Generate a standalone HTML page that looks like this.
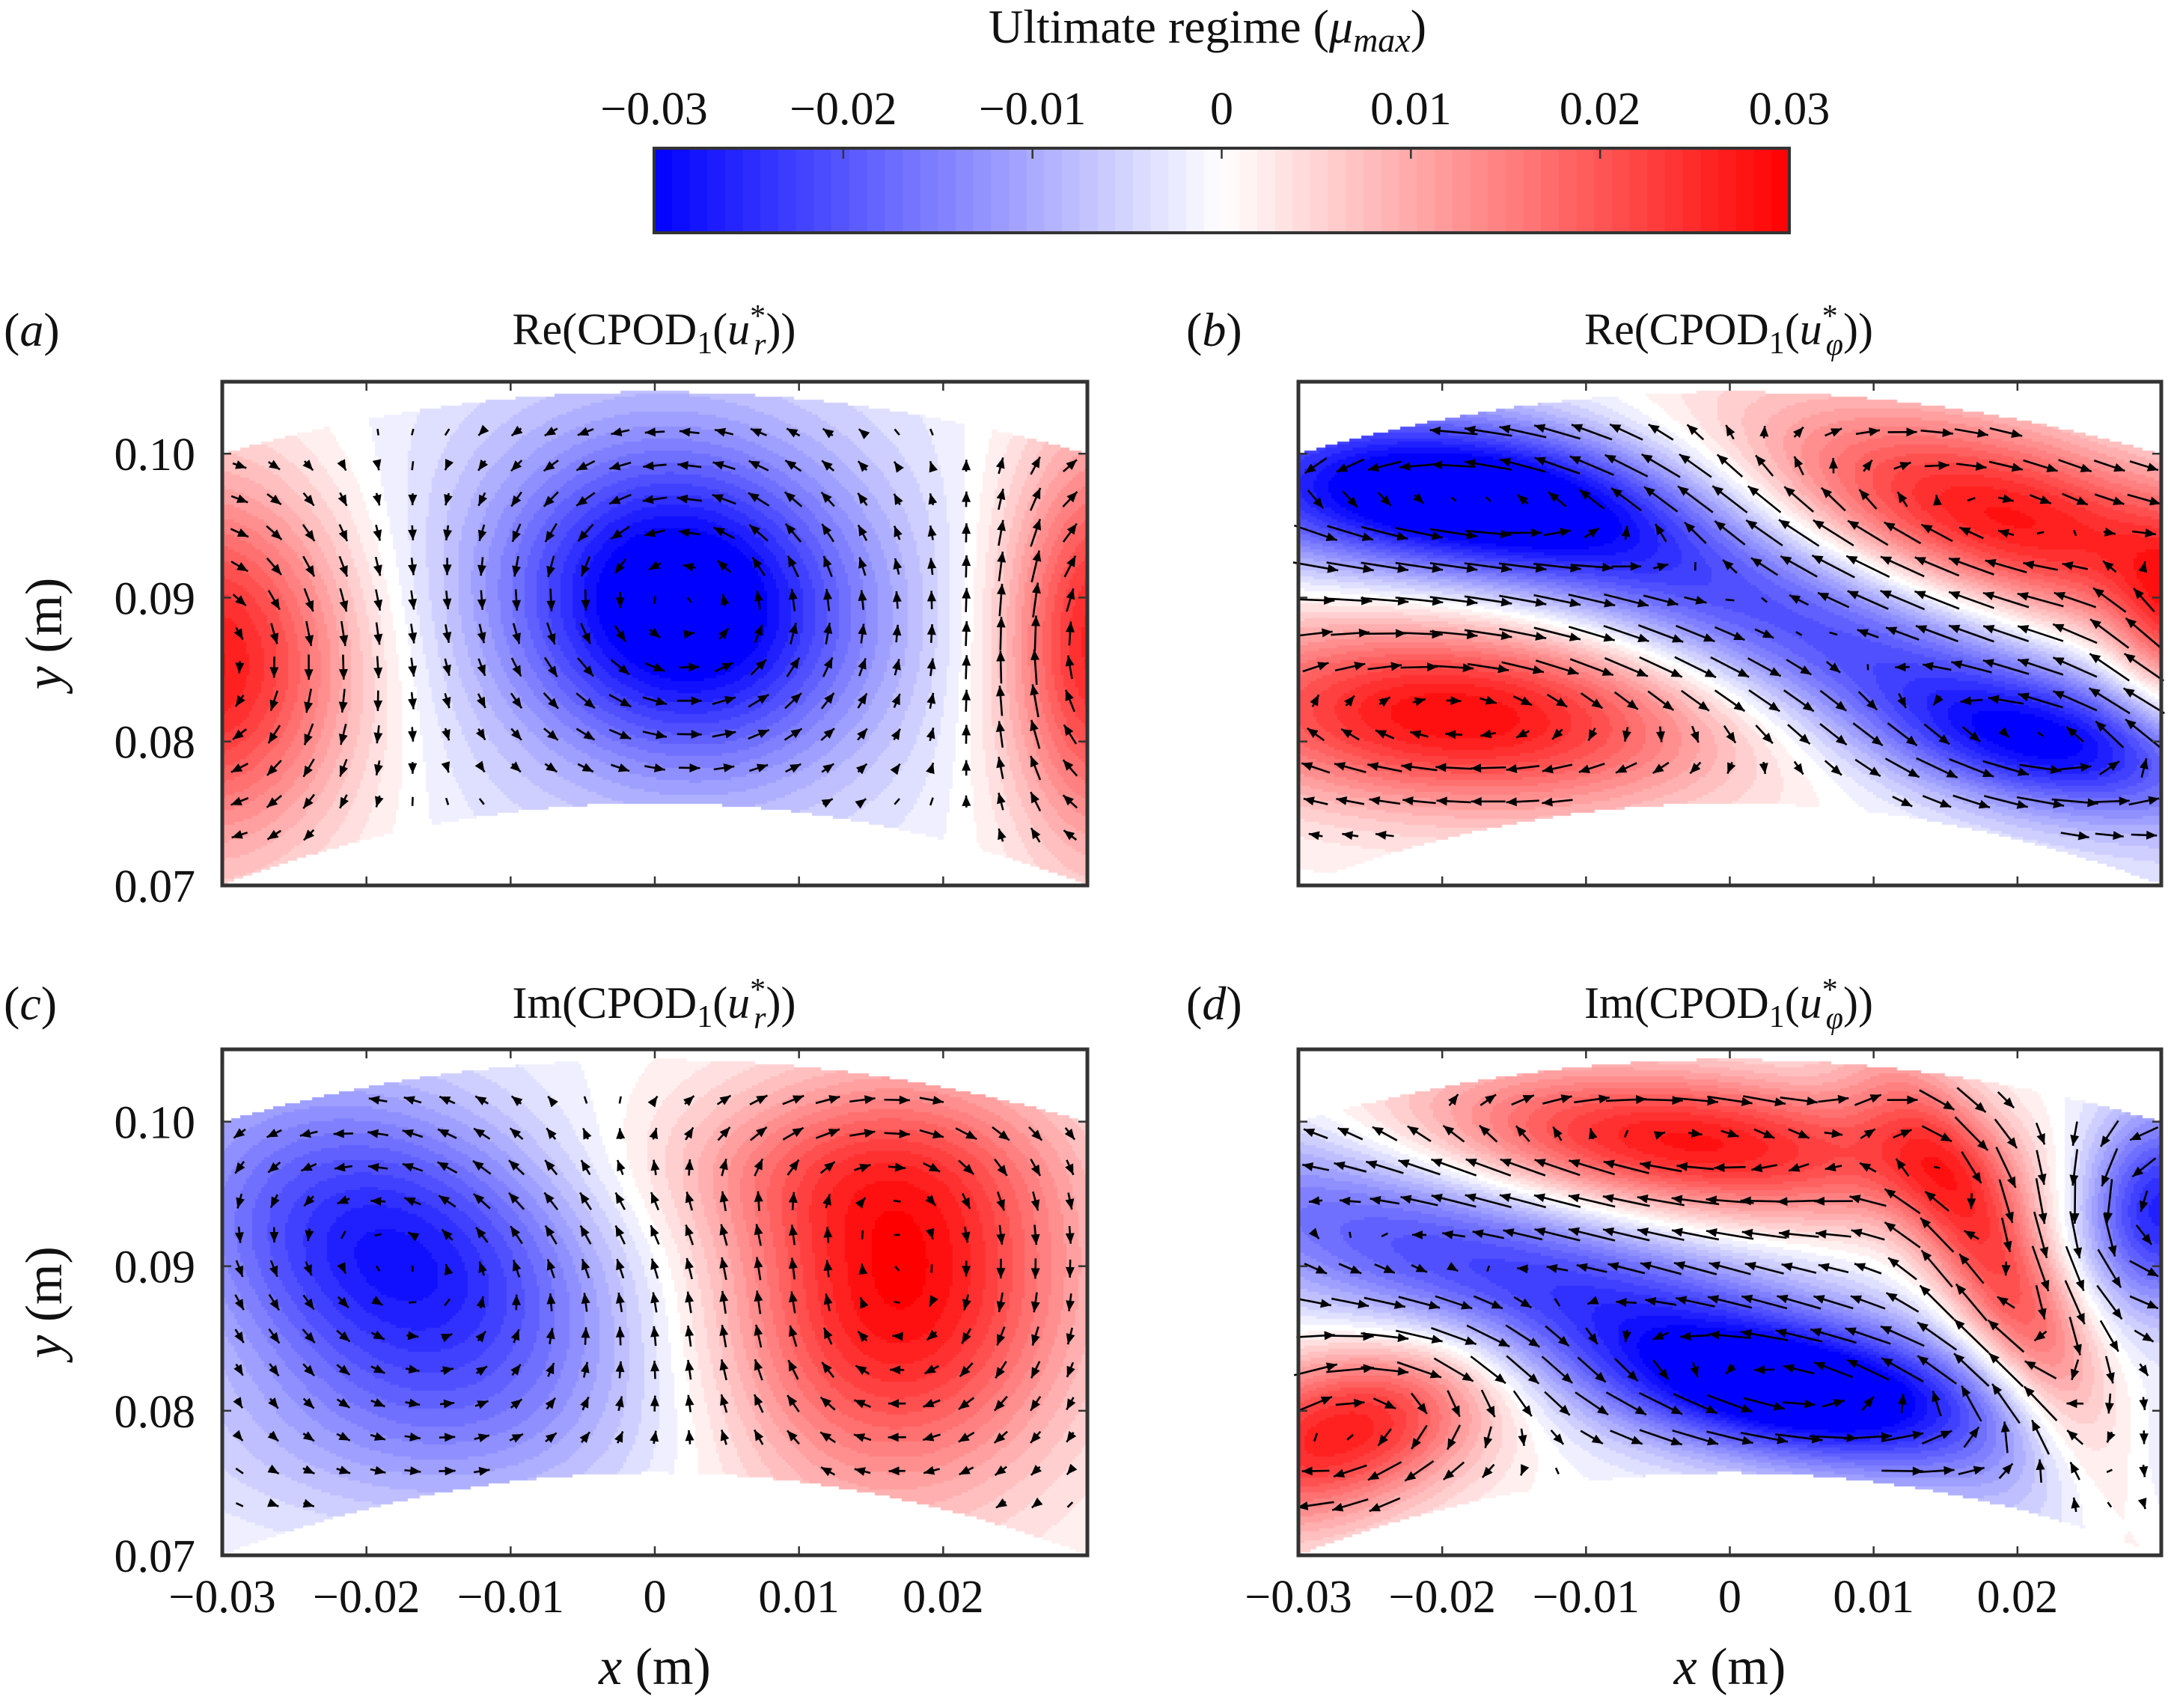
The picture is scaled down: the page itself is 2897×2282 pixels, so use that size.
<!DOCTYPE html>
<html><head><meta charset="utf-8">
<style>
html,body{margin:0;padding:0;background:#fff;}
#wrap{position:relative;width:2897px;height:2282px;overflow:hidden;background:#fff;}
canvas{position:absolute;}
svg{position:absolute;left:0;top:0;}
text{font-family:"Liberation Serif",serif;fill:#111;}
</style></head>
<body>
<div id="wrap">
<canvas id="cv-a"></canvas>
<canvas id="cv-b"></canvas>
<canvas id="cv-c"></canvas>
<canvas id="cv-d"></canvas>
<svg id="svg" width="2897" height="2282" xmlns="http://www.w3.org/2000/svg">
  <text x="1321" y="57" font-size="64">Ultimate regime (<tspan font-style="italic">μ</tspan><tspan font-style="italic" font-size="46" dy="12">max</tspan><tspan dy="-12">)</tspan></text>
  <g id="cbar"></g>
  <g id="panels"></g>
</svg>
</div>
<script>
// ---- colorbar data ----
const cbarTicks = [-0.03, -0.02, -0.01, 0, 0.01, 0.02, 0.03];
const cbarLabels = ["−0.03", "−0.02", "−0.01", "0", "0.01", "0.02", "0.03"];
const xTicks = [-0.03, -0.02, -0.01, 0, 0.01, 0.02];
const xTickLabels = ["−0.03", "−0.02", "−0.01", "0", "0.01", "0.02"];
const yTicks = [0.07, 0.08, 0.09, 0.10];
const yTickLabels = ["0.07", "0.08", "0.09", "0.10"];
// blobs: [x, y, sigmaMajor, sigmaMinor, angleDeg (math, + = up-right), amplitude]
const blobsA = [[-0.031,0.0855,0.0075,0.009,0,0.029],[0.002,0.0895,0.0085,0.0075,-20,-0.029],[0.0,0.090,0.017,0.013,0,-0.007],[0.031,0.087,0.005,0.010,0,0.028]];
const blobsB = [[-0.021,0.097,0.012,0.0038,-3,-0.029],[0.019,0.0955,0.013,0.0045,-15,0.028],[-0.019,0.0818,0.013,0.0045,-3,0.029],[0.006,0.0875,0.022,0.0045,-22,-0.022],[0.022,0.0798,0.008,0.003,-8,-0.016],[0.031,0.088,0.003,0.005,0,0.015]];
const blobsC = [[-0.018,0.0905,0.011,0.0075,-25,-0.028],[0.017,0.088,0.0085,0.0095,-15,0.029],[-0.018,0.078,0.012,0.005,0,-0.006],[0.012,0.097,0.01,0.004,0,0.008]];
const blobsD = [[-0.003,0.0985,0.013,0.0035,-5,0.028],[0.019,0.089,0.012,0.003,-62,0.022],[0.030,0.094,0.004,0.005,0,-0.027],[-0.009,0.087,0.024,0.0045,-18,-0.025],[0.005,0.0812,0.009,0.003,-5,-0.02],[-0.027,0.0785,0.008,0.004,20,0.027]];
const titlesHTML = [
  ["Re", "r"], ["Re", "φ"], ["Im", "r"], ["Im", "φ"]
];
const X0 = -0.03, X1 = 0.030, Y0 = 0.07, Y1 = 0.105;
const panels = [
  {id:"a", left:297, top:510, w:1156, h:673, blobs:blobsA, tag:"a", showY:true, showX:false, tx:874, ty:460, lx:5},
  {id:"b", left:1735, top:510, w:1153, h:673, blobs:blobsB, tag:"b", showY:false, showX:false, tx:2310, ty:460, lx:1585},
  {id:"c", left:297, top:1402, w:1156, h:676, blobs:blobsC, tag:"c", showY:true, showX:true, tx:874, ty:1360, lx:5},
  {id:"d", left:1735, top:1402, w:1153, h:676, blobs:blobsD, tag:"d", showY:false, showX:true, tx:2310, ty:1360, lx:1585}
];
const NS = "http://www.w3.org/2000/svg";
function mk(tag, attrs, parent){const e=document.createElementNS(NS,tag);for(const k in attrs)e.setAttribute(k,attrs[k]);if(parent)parent.appendChild(e);return e;}
function colorOf(v,q){
  let t=Math.max(-1,Math.min(1,v/0.03));
  if(q)t=Math.round(t*16)/16;
  if(t<0){const c=Math.round(255*(1+t));return [c,c,255];}
  const c=Math.round(255*(1-t));return [255,c,c];
}
function field(blobs,x,y){
  let s=0;
  for(const b of blobs){
    const a=b[4]*Math.PI/180, dx=x-b[0], dy=y-b[1];
    const u=dx*Math.cos(a)+dy*Math.sin(a), w=-dx*Math.sin(a)+dy*Math.cos(a);
    s+=b[5]*Math.exp(-0.5*(u*u/(b[2]*b[2])+w*w/(b[3]*b[3])));
  }
  return s;
}
function yTop(x){return 0.1043-4.8*x*x;}
function yBot(x){return 0.0757-6.3*x*x;}

const cb=document.getElementById('cbar');
const cbL=874, cbR=2391, cbT=198, cbB=311;
const cbx=v=>cbL+(v-(-0.03))/0.06*(cbR-cbL);
const nBands=64;
for(let i=0;i<nBands;i++){
  const v0=-0.03+0.06*i/nBands, v1=-0.03+0.06*(i+1)/nBands;
  const c=colorOf((v0+v1)/2,false);
  const r=mk('rect',{x:cbx(v0),y:cbT,width:cbx(v1)-cbx(v0)+0.6,height:cbB-cbT,fill:`rgb(${c[0]},${c[1]},${c[2]})`},cb);
  
  
}
mk('rect',{x:cbL,y:cbT,width:cbR-cbL,height:cbB-cbT,fill:'none',stroke:'#333','stroke-width':4},cb);
cbarTicks.forEach((v,i)=>{
  mk('line',{x1:cbx(v),x2:cbx(v),y1:cbT,y2:cbT+14,stroke:'#333','stroke-width':2.5},cb);
  const t=mk('text',{x:cbx(v),y:166,'font-size':62,'text-anchor':'middle'},cb);
  t.textContent=cbarLabels[i];
  
  
});

const svg=document.getElementById('panels');
panels.forEach(p=>{
  const cv=document.getElementById('cv-'+p.id);
  cv.width=p.w;cv.height=p.h;cv.style.left=p.left+'px';cv.style.top=p.top+'px';
  const ctx=cv.getContext('2d');
  const sx=x=>(x-X0)/(X1-X0)*p.w, sy=y=>(Y1-y)/(Y1-Y0)*p.h;
  const cell=4;
  for(let py=0;py<p.h;py+=cell){
    for(let px=0;px<p.w;px+=cell){
      const x=X0+(px+cell/2)/p.w*(X1-X0), y=Y1-(py+cell/2)/p.h*(Y1-Y0);
      if(y>yTop(x)||y<yBot(x))continue;
      const c=colorOf(field(p.blobs,x,y),true);
      ctx.fillStyle=`rgb(${c[0]},${c[1]},${c[2]})`;
      ctx.fillRect(px,py,cell,cell);
    }
  }
  const g=mk('g',{transform:`translate(${p.left},${p.top})`},svg);
  
  
  const ag=mk('g',{stroke:'#000','stroke-width':2.6,fill:'#000'},g);
  
  
  const nx=25, ny=15, h=0.0004;
  for(let j=0;j<ny;j++){for(let i=0;i<nx;i++){
    const x=X0+(i+0.5)/nx*(X1-X0), y=Y0+(j+0.5)/ny*(Y1-Y0);
    if(y>yTop(x)-0.0008||y<yBot(x)+0.0008)continue;
    const fx=(field(p.blobs,x+h,y)-field(p.blobs,x-h,y))/(2*h);
    const fy=(field(p.blobs,x,y+h)-field(p.blobs,x,y-h))/(2*h);
    let u=-fy, v=fx;
    let len=Math.hypot(u,v)*13;
    if(len<8)len=8; if(len>64)len=64;
    const ang=Math.atan2(-v,u);
    const cx=sx(x), cy=sy(y);
    const dx=Math.cos(ang)*len/2, dy=Math.sin(ang)*len/2;
    mk('line',{x1:cx-dx,y1:cy-dy,x2:cx+dx,y2:cy+dy},ag);
    if(len>12){
      const hx=cx+dx, hy=cy+dy, hl=14, hw=6;
      const bx=hx-Math.cos(ang)*hl, by=hy-Math.sin(ang)*hl;
      mk('polygon',{points:`${hx},${hy} ${bx-Math.sin(ang)*hw},${by+Math.cos(ang)*hw} ${bx+Math.sin(ang)*hw},${by-Math.cos(ang)*hw}`,stroke:'none'},ag);
    }
  }}
  const fr=mk('rect',{x:0,y:0,width:p.w,height:p.h,fill:'none',stroke:'#333','stroke-width':5},g);
  
  
  xTicks.forEach((v,i)=>{
    mk('line',{x1:sx(v),x2:sx(v),y1:0,y2:12,stroke:'#333','stroke-width':2.5},g);
    mk('line',{x1:sx(v),x2:sx(v),y1:p.h,y2:p.h-12,stroke:'#333','stroke-width':2.5},g);
    if(p.showX){
      const t=mk('text',{x:sx(v),y:p.h+76,'font-size':62,'text-anchor':'middle'},g);
      t.textContent=xTickLabels[i];
      
      
    }
  });
  yTicks.forEach((v,i)=>{
    mk('line',{x1:0,x2:12,y1:sy(v),y2:sy(v),stroke:'#333','stroke-width':2.5},g);
    mk('line',{x1:p.w,x2:p.w-12,y1:sy(v),y2:sy(v),stroke:'#333','stroke-width':2.5},g);
    if(p.showY){
      const t=mk('text',{x:-36,y:sy(v)+22,'font-size':62,'text-anchor':'end'},g);
      t.textContent=yTickLabels[i];
      
      
    }
  });
  if(p.showY){
    const t=mk('text',{transform:`translate(-215,${p.h/2}) rotate(-90)`,'font-size':70,'text-anchor':'middle'},g);
    t.innerHTML='<tspan font-style="italic">y</tspan> (m)';
    
    
  }
  if(p.showX){
    const t=mk('text',{x:p.w/2,y:p.h+172,'font-size':70,'text-anchor':'middle'},g);
    t.innerHTML='<tspan font-style="italic">x</tspan> (m)';
    
    
  }
  const idx=panels.indexOf(p);
  const tt=mk('text',{x:p.tx,y:p.ty,'font-size':60,'text-anchor':'middle'},svg);
  tt.innerHTML=`${titlesHTML[idx][0]}(CPOD<tspan font-size="42" dy="12">1</tspan><tspan dy="-12">(</tspan><tspan font-style="italic">u</tspan><tspan font-size="42" dy="-24">*</tspan><tspan font-size="42" font-style="italic" dx="-16" dy="38">${titlesHTML[idx][1]}</tspan><tspan dy="-14">))</tspan>`;
  
  
  const lt=mk('text',{x:p.lx,y:p.ty+2,'font-size':64},svg);
  lt.innerHTML=`(<tspan font-style="italic">${p.tag}</tspan>)`;
  
  
});
</script>
</body></html>
